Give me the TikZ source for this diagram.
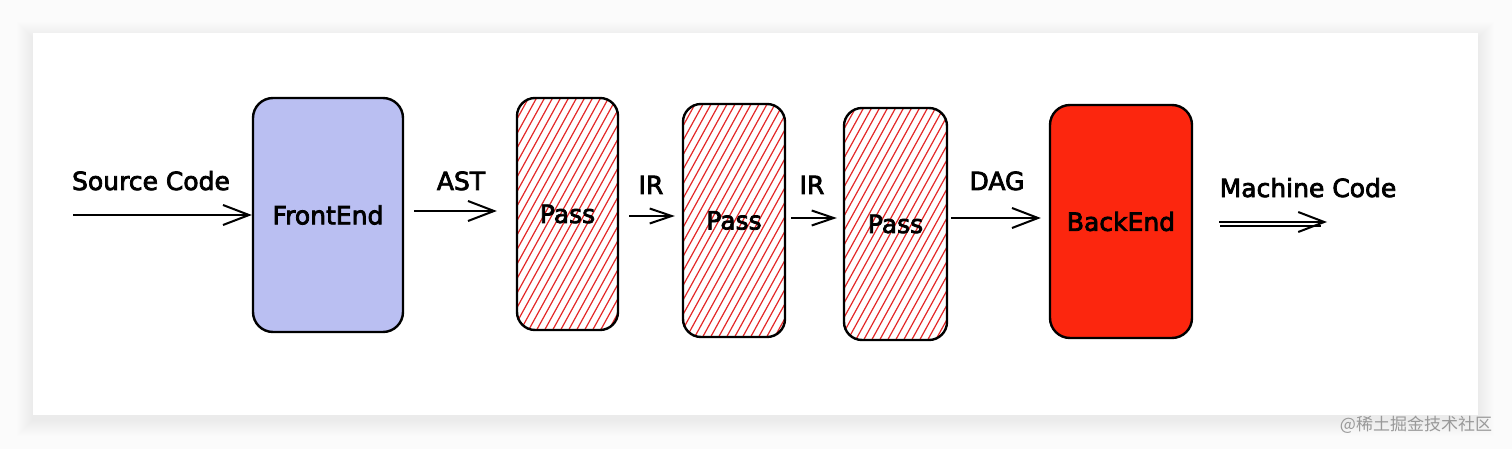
\documentclass[tikz,border=0pt]{standalone}
\usepackage{fontspec}
\setmainfont{DejaVu Sans}
\newfontfamily\hand{DejaVu Sans}[FakeBold=3]
\newfontfamily\cjk{Noto Sans CJK SC}
\usetikzlibrary{arrows.meta,calc}
\definecolor{lav}{RGB}{186,191,242}
\definecolor{bered}{RGB}{252,38,14}
\definecolor{hred}{RGB}{228,40,40}
\definecolor{bggray}{RGB}{251,251,251}
\begin{document}
\begin{tikzpicture}[x=1pt,y=-1pt,
  box/.style={draw=black, line width=2.4pt, rounded corners=20pt, inner sep=0pt,
    font=\hand\fontsize{25}{30}\selectfont},
  hatch/.style={path picture={
    \foreach \k in {0,...,42}{
      \draw[hred, line width=1.2pt]
        ($(path picture bounding box.south west)+(\k*8pt-150pt,-3pt)$) -- ++(145pt,263pt);
    }}},
  lbl/.style={font=\hand\fontsize{25}{30}\selectfont, anchor=base, inner sep=0pt},
  arr/.style={line width=2pt, -{Straight Barb[length=26pt,width=20pt,line width=2pt]}},
  sarr/.style={line width=2pt, -{Straight Barb[length=22pt,width=15pt,line width=2pt]}},
]
\useasboundingbox (0,0) rectangle (1512,449);
\fill[bggray] (0,0) rectangle (1512,449);
% card shadow
\foreach \i in {1,...,16}{
  \fill[black, opacity=0.003] ($(33,33)+(-\i,-\i+5)$) rectangle ($(1478,415)+(\i,\i+5)$);
}
\fill[white] (33,33) rectangle (1478,415);

% boxes
\node[box, fill=lav, minimum width=150pt, minimum height=234pt] (fe) at (328,215) {FrontEnd};
\node[box, fill=white, hatch, rounded corners=18pt, minimum width=101pt, minimum height=232pt] (p1) at (567.5,214) {Pass};
\node[box, fill=white, hatch, rounded corners=18pt, minimum width=102pt, minimum height=233pt] (p2) at (734,220.5) {Pass};
\node[box, fill=white, hatch, rounded corners=18pt, minimum width=103pt, minimum height=232pt] (p3) at (895.5,224) {Pass};
\node[box, fill=bered, minimum width=142pt, minimum height=233pt] (be) at (1121,221.5) {BackEnd};

% labels
\node[lbl] (lsrc) at (151,190) {Source Code};
\node[lbl] (last) at (461,190) {AST};
\node[lbl] (lir1) at (651,194) {IR};
\node[lbl] (lir2) at (812,194) {IR};
\node[lbl] (ldag) at (997,190) {DAG};
\node[lbl] (lmc) at (1308,197) {Machine Code};

% connectors
\coordinate (s0) at (73,215);
\draw[arr] (s0) -- (fe.west |- s0);
\draw[arr, shorten <=10pt, shorten >=19pt] (fe.east |- 0,211) -- (p1.west |- 0,211);
\draw[sarr, shorten <=10pt, shorten >=7pt] (p1.east |- 0,216) -- (p2.west |- 0,216);
\draw[sarr, shorten <=5pt, shorten >=6pt] (p2.east |- 0,218) -- (p3.west |- 0,218);
\draw[arr, shorten <=3pt, shorten >=8pt] (p3.east |- 0,218) -- (be.west |- 0,218);
\coordinate (mc) at (1327,222);
\draw[arr, line width=1.6pt] ($(be.east |- mc)+(26,0)$) -- (mc);
\draw[line width=1.6pt] ($(be.east |- mc)+(27,4)$) -- ($(mc)+(-6,4)$);

% watermark
\node[font=\cjk\fontsize{17}{20}\selectfont, text=black!40, inner sep=0pt] (wm) at (1416,425) {@稀土掘金技术社区};
\end{tikzpicture}
\end{document}
